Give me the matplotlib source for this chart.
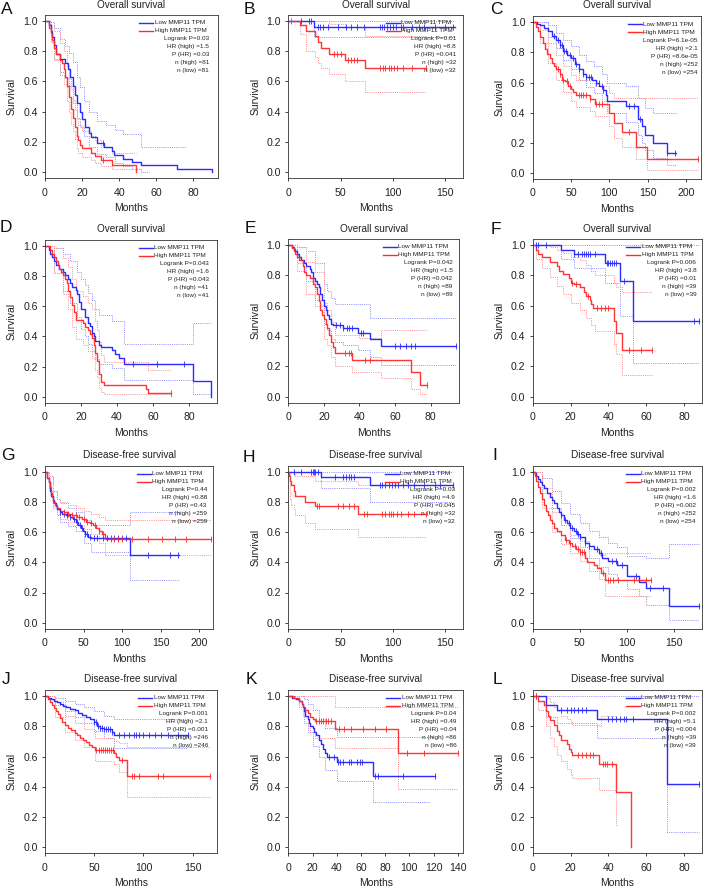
import matplotlib
matplotlib.use('Agg')
import matplotlib.pyplot as plt
import numpy as np
from matplotlib.lines import Line2D

# ---------------- DATA ----------------
GROUPS = ["Low MMP11 TPM", "High MMP11 TPM"]

# Panel A
A_low = [(0,1.0),(2,0.97),(3,0.93),(4,0.89),(5,0.84),(6,0.78),(8,0.75),(11,0.72),(12.5,0.68),(13.5,0.63),(15,0.57),(16,0.51),(17.5,0.46),(19,0.40),(20,0.35),(21.5,0.30),(23.5,0.26),(25,0.23),(28,0.19),(32,0.17),(36,0.14),(37,0.115),(42,0.085),(47,0.065),(52,0.045),(71,0.02),(90,0.0)]
A_high = [(0,1.0),(2,0.95),(3,0.92),(4,0.87),(5,0.82),(6,0.78),(8,0.74),(9,0.72),(10,0.68),(11,0.63),(12,0.57),(13,0.50),(14,0.42),(15,0.36),(16,0.30),(17,0.24),(18,0.21),(19,0.18),(20,0.16),(25,0.13),(27,0.11),(30,0.08),(36,0.05),(49,0.0)]
A_low_up = [(0,1.0),(3,0.99),(5,0.95),(8,0.88),(11,0.83),(13,0.79),(15,0.73),(17,0.63),(19,0.56),(21,0.47),(24,0.40),(28,0.34),(33,0.31),(38,0.28),(42,0.25),(52,0.17),(76,0.17)]
A_low_lo = [(0,1.0),(3,0.86),(5,0.75),(8,0.66),(11,0.62),(13,0.57),(15,0.46),(17,0.36),(19,0.30),(21,0.24),(24,0.17),(28,0.12),(33,0.10),(38,0.06),(42,0.04),(47,0.02),(52,0.0),(56,0.0)]
A_high_up = [(0,1.0),(3,0.99),(5,0.93),(8,0.85),(10,0.80),(12,0.70),(13,0.62),(14,0.55),(15,0.48),(16,0.41),(17,0.35),(18,0.31),(20,0.27),(25,0.24),(27,0.21),(30,0.17),(36,0.13),(49,0.13)]
A_high_lo = [(0,1.0),(3,0.86),(5,0.74),(8,0.64),(10,0.58),(12,0.47),(13,0.40),(14,0.32),(15,0.27),(16,0.22),(17,0.16),(18,0.13),(20,0.10),(25,0.08),(27,0.06),(30,0.04),(36,0.02),(49,0.0)]
A_low_cens = [31.5]
A_high_cens = [31.5]
A_stats = ["Logrank P=0.03", "HR (high) =1.5", "P (HR) =0.03", "n (high) =81", "n (low) =81"]

# Panel B
B_low = [(0,1.0),(25,0.96),(160,0.96)]
B_high = [(0,1.0),(11,0.97),(17,0.93),(26,0.90),(28,0.86),(31,0.82),(39,0.78),(54,0.74),(73,0.69),(132,0.69)]
B_low_up = [(0,1.0),(160,1.0)]
B_low_lo = [(0,1.0),(25,0.89),(160,0.89)]
B_high_up = [(0,1.0),(39,0.98),(54,0.96),(73,0.90),(132,0.90)]
B_high_lo = [(0,1.0),(11,0.91),(17,0.80),(26,0.76),(28,0.72),(31,0.69),(39,0.65),(54,0.60),(73,0.53),(132,0.53)]
B_low_cens = [12,20,22,28,30,33,38,48,55,60,66,72,88,90,92,94,97,100,103,108,110,118,125,130,140,150,158]
B_high_cens = [3,44,47,50,57,60,63,66,88,91,93,96,98,101,104,110,118,132]
B_stats = ["Logrank P=0.01", "HR (high) =8.8", "P (HR) =0.041", "n (high) =32", "n (low) =32"]

# Panel C
C_low = [(0,1.0),(5,0.99),(10,0.98),(15,0.96),(20,0.94),(25,0.91),(30,0.88),(35,0.85),(40,0.81),(45,0.78),(50,0.76),(55,0.72),(60,0.69),(65,0.66),(70,0.64),(77,0.62),(82,0.60),(87,0.58),(92,0.55),(95,0.52),(97,0.48),(122,0.445),(137,0.36),(142,0.31),(147,0.25),(157,0.20),(175,0.135),(187,0.135)]
C_high = [(0,1.0),(4,0.97),(7,0.94),(10,0.90),(13,0.86),(16,0.82),(19,0.79),(22,0.76),(25,0.73),(28,0.71),(31,0.69),(35,0.66),(38,0.62),(42,0.61),(46,0.58),(50,0.56),(53,0.54),(57,0.52),(75,0.49),(81,0.46),(100,0.40),(106,0.33),(116,0.27),(135,0.175),(149,0.09),(216,0.09)]
C_low_up = [(0,1.0),(20,0.98),(30,0.93),(40,0.88),(50,0.84),(60,0.78),(70,0.74),(80,0.71),(90,0.66),(97,0.60),(122,0.58),(137,0.50),(147,0.43),(157,0.40),(187,0.40)]
C_low_lo = [(0,1.0),(20,0.90),(30,0.83),(40,0.75),(50,0.69),(60,0.62),(70,0.57),(80,0.53),(90,0.48),(97,0.40),(122,0.34),(137,0.25),(142,0.20),(147,0.15),(157,0.10),(175,0.05),(187,0.05)]
C_high_up = [(0,1.0),(10,0.95),(20,0.86),(30,0.78),(40,0.71),(50,0.65),(57,0.62),(75,0.60),(81,0.58),(100,0.53),(106,0.50),(216,0.50)]
C_high_lo = [(0,1.0),(10,0.86),(20,0.73),(30,0.62),(40,0.54),(50,0.48),(57,0.44),(75,0.41),(81,0.38),(100,0.31),(106,0.23),(116,0.17),(135,0.09),(149,0.02),(216,0.02)]
C_low_cens = [28,33,36,38,41,44,48,52,56,60,66,70,73,76,82,86,90,92,126,132,140,175,186]
C_high_cens = [33,36,40,45,48,60,63,66,70,75,82,87,90,126,216]
C_stats = ["Logrank P=6.1e-05", "HR (high) =2.1", "P (HR) =8.6e-05", "n (high) =252", "n (low) =254"]

# Panel D
D_low = [(0,1.0),(2,0.975),(3,0.95),(4,0.925),(5,0.90),(6,0.875),(8,0.85),(10,0.83),(11,0.805),(13,0.78),(14,0.755),(15,0.73),(17,0.705),(18,0.68),(19,0.63),(20,0.58),(22,0.53),(24,0.49),(25,0.47),(26,0.42),(27,0.40),(28,0.37),(30,0.345),(31,0.33),(37,0.31),(39,0.285),(41,0.26),(44,0.215),(82,0.105),(92,0.0)]
D_high = [(0,1.0),(3,0.975),(4,0.95),(5,0.925),(6,0.90),(7,0.875),(8,0.85),(9,0.83),(10,0.805),(11,0.78),(12,0.755),(13,0.70),(14,0.66),(15,0.61),(16,0.56),(17,0.51),(21,0.49),(22,0.46),(24,0.44),(25,0.415),(26,0.39),(27,0.34),(28,0.29),(29,0.24),(30,0.15),(31,0.10),(33,0.075),(56,0.05),(57,0.025),(70,0.025)]
D_low_up = [(0,1.0),(5,0.99),(10,0.95),(14,0.90),(18,0.83),(20,0.78),(22,0.74),(24,0.69),(26,0.64),(28,0.58),(30,0.54),(37,0.50),(44,0.35),(82,0.49),(92,0.49)]
D_low_lo = [(0,1.0),(5,0.82),(10,0.70),(14,0.62),(18,0.53),(20,0.45),(22,0.40),(24,0.35),(26,0.30),(28,0.25),(30,0.22),(37,0.19),(44,0.11),(82,0.02),(92,0.02)]
D_high_up = [(0,1.0),(5,0.99),(10,0.92),(13,0.86),(15,0.78),(17,0.70),(21,0.67),(24,0.62),(26,0.58),(28,0.50),(29,0.44),(30,0.36),(31,0.28),(33,0.23),(57,0.18),(70,0.18)]
D_high_lo = [(0,1.0),(5,0.82),(10,0.68),(13,0.58),(15,0.46),(17,0.38),(21,0.34),(24,0.30),(26,0.26),(28,0.18),(29,0.13),(30,0.06),(31,0.03),(33,0.02),(70,0.0)]
D_low_cens = [49,62,77]
D_high_cens = [70]
D_stats = ["Logrank P=0.043", "HR (high) =1.6", "P (HR) =0.043", "n (high) =41", "n (low) =41"]

# Panel E
E_low = [(0,1.0),(2,0.99),(3,0.975),(4,0.96),(5,0.94),(6,0.92),(7,0.90),(9,0.88),(10,0.86),(12,0.84),(13,0.82),(14,0.78),(15,0.76),(16,0.74),(17,0.72),(18,0.68),(19,0.64),(20,0.60),(21,0.57),(22,0.54),(23,0.51),(24,0.48),(25,0.47),(31,0.45),(39,0.42),(46,0.38),(52,0.335),(94,0.335)]
E_high = [(0,1.0),(2,0.98),(3,0.96),(4,0.94),(5,0.92),(6,0.90),(8,0.86),(9,0.82),(10,0.80),(12,0.78),(14,0.74),(15,0.72),(16,0.68),(17,0.63),(18,0.57),(19,0.54),(20,0.51),(21,0.48),(22,0.45),(23,0.41),(24,0.36),(25,0.33),(26,0.285),(36,0.24),(69,0.16),(74,0.08),(78,0.08)]
E_low_up = [(0,1.0),(5,0.99),(10,0.96),(15,0.88),(20,0.74),(22,0.70),(24,0.65),(26,0.61),(46,0.52),(94,0.52)]
E_low_lo = [(0,1.0),(5,0.88),(10,0.76),(15,0.64),(20,0.48),(22,0.44),(24,0.38),(26,0.36),(31,0.34),(39,0.31),(46,0.26),(52,0.21),(94,0.21)]
E_high_up = [(0,1.0),(5,0.99),(10,0.89),(15,0.82),(20,0.62),(22,0.57),(24,0.49),(26,0.41),(40,0.39),(52,0.44),(78,0.44)]
E_high_lo = [(0,1.0),(5,0.83),(10,0.68),(15,0.60),(20,0.38),(22,0.34),(24,0.26),(26,0.20),(36,0.16),(52,0.12),(69,0.05),(74,0.02),(78,0.02)]
E_low_cens = [27,29,31,33,34,36,41,42,60,63,66,69,71,94]
E_high_cens = [32,34,35,43,46,78]
E_stats = ["Logrank P=0.042", "HR (high) =1.5", "P (HR) =0.042", "n (high) =89", "n (low) =89"]

# Panel F
F_low = [(0,1.0),(15,0.97),(22,0.94),(38,0.88),(46,0.76),(53,0.50),(88,0.50)]
F_high = [(0,1.0),(2,0.97),(3,0.94),(5,0.92),(9,0.89),(13,0.86),(14,0.83),(16,0.81),(19,0.78),(20,0.75),(22,0.745),(25,0.72),(27,0.69),(28,0.665),(30,0.64),(31,0.61),(32,0.585),(43,0.50),(44,0.42),(47,0.31),(63,0.31)]
F_low_up = [(0,1.0),(88,1.0)]
F_low_lo = [(0,1.0),(15,0.91),(22,0.85),(38,0.75),(46,0.53),(53,0.22),(88,0.22)]
F_high_up = [(0,1.0),(5,1.0),(9,0.99),(13,0.97),(16,0.95),(20,0.92),(25,0.90),(28,0.87),(31,0.83),(33,0.80),(43,0.75),(44,0.72),(47,0.69),(63,0.69)]
F_high_lo = [(0,1.0),(2,0.91),(5,0.85),(9,0.79),(13,0.73),(16,0.68),(20,0.62),(25,0.57),(28,0.52),(31,0.47),(33,0.43),(43,0.35),(44,0.28),(47,0.14),(63,0.14)]
F_low_cens = [2,3,7,22,24,26,27,28,29,30,33,39,40,41,42,43,44,48,85,88]
F_high_cens = [21,23,29,34,36,38,40,51,57,63]
F_stats = ["Logrank P=0.006", "HR (high) =3.8", "P (HR) =0.01", "n (high) =39", "n (low) =39"]

# Panel G
G_low = [(0,1.0),(2,0.98),(3,0.96),(5,0.93),(6,0.90),(7,0.87),(8,0.84),(10,0.81),(12,0.79),(14,0.77),(16,0.75),(19,0.73),(22,0.72),(27,0.71),(32,0.70),(36,0.69),(40,0.67),(43,0.65),(46,0.63),(49,0.61),(52,0.59),(56,0.57),(59,0.56),(110,0.45),(173,0.45)]
G_high = [(0,1.0),(2,0.98),(3,0.96),(5,0.93),(6,0.90),(8,0.86),(9,0.83),(11,0.80),(13,0.78),(16,0.76),(19,0.74),(25,0.73),(30,0.72),(35,0.71),(42,0.70),(48,0.69),(53,0.67),(58,0.66),(62,0.645),(66,0.625),(70,0.605),(74,0.59),(78,0.555),(215,0.555)]
G_low_up = [(0,1.0),(5,0.97),(10,0.87),(15,0.82),(20,0.79),(30,0.76),(40,0.73),(50,0.68),(59,0.65),(110,0.73),(173,0.73)]
G_low_lo = [(0,1.0),(5,0.89),(10,0.76),(15,0.71),(20,0.67),(30,0.64),(40,0.61),(50,0.53),(59,0.47),(110,0.28),(173,0.28)]
G_high_up = [(0,1.0),(5,0.97),(10,0.87),(15,0.82),(20,0.80),(30,0.78),(40,0.76),(50,0.74),(60,0.72),(70,0.70),(78,0.68),(215,0.68)]
G_high_lo = [(0,1.0),(5,0.89),(10,0.77),(15,0.72),(20,0.69),(30,0.67),(40,0.65),(50,0.62),(60,0.59),(70,0.53),(78,0.45),(215,0.45)]
G_low_cens = [20,24,28,33,37,42,45,48,52,55,58,63,68,75,80,85,90,95,100,105,133,162,172]
G_high_cens = [25,30,35,40,44,50,55,60,65,70,75,85,90,95,100,113,133,152,168,183,215]
G_stats = ["Logrank P=0.44", "HR (high) =0.88", "P (HR) =0.43", "n (high) =259", "n (low) =259"]

# Panel H
H_low = [(0,1.0),(31,0.965),(78,0.915),(158,0.915)]
H_high = [(0,1.0),(1,0.97),(2,0.94),(3,0.91),(5,0.875),(6,0.84),(16,0.80),(26,0.77),(67,0.72),(132,0.72)]
H_low_up = [(0,1.0),(158,1.0)]
H_low_lo = [(0,1.0),(31,0.89),(78,0.80),(158,0.80)]
H_high_up = [(0,1.0),(6,0.97),(26,0.94),(67,0.91),(132,0.91)]
H_high_lo = [(0,1.0),(2,0.82),(3,0.78),(5,0.75),(6,0.71),(16,0.66),(26,0.62),(67,0.565),(132,0.565)]
H_low_cens = [5,12,22,24,25,26,28,45,52,55,58,60,63,88,90,93,96,99,102,105,110,115,120,130,140,145,158]
H_high_cens = [27,29,48,52,58,63,72,75,90,93,96,98,100,104,108,115,120,132]
H_stats = ["Logrank P=0.03", "HR (high) =4.9", "P (HR) =0.045", "n (high) =32", "n (low) =32"]

# Panel I
I_low = [(0,1.0),(2,0.99),(4,0.97),(6,0.95),(8,0.93),(10,0.91),(12,0.89),(15,0.86),(18,0.83),(20,0.81),(23,0.79),(26,0.76),(28,0.73),(30,0.71),(33,0.68),(36,0.66),(40,0.63),(44,0.61),(47,0.59),(50,0.57),(55,0.53),(60,0.51),(65,0.49),(70,0.46),(74,0.43),(80,0.41),(89,0.38),(100,0.31),(113,0.27),(120,0.23),(145,0.11),(177,0.11)]
I_high = [(0,1.0),(2,0.97),(4,0.94),(6,0.90),(8,0.86),(10,0.82),(12,0.78),(14,0.74),(16,0.71),(18,0.68),(20,0.66),(23,0.63),(26,0.61),(30,0.58),(34,0.55),(38,0.53),(42,0.51),(46,0.49),(50,0.47),(55,0.43),(58,0.40),(65,0.38),(68,0.36),(72,0.33),(77,0.285),(126,0.285)]
I_low_up = [(0,1.0),(10,0.96),(20,0.87),(30,0.79),(40,0.72),(50,0.66),(60,0.61),(70,0.57),(80,0.53),(89,0.50),(100,0.44),(120,0.43),(145,0.52),(177,0.52)]
I_low_lo = [(0,1.0),(10,0.86),(20,0.76),(30,0.65),(40,0.56),(50,0.50),(60,0.43),(70,0.37),(80,0.32),(89,0.28),(100,0.22),(113,0.18),(120,0.12),(145,0.02),(177,0.02)]
I_high_up = [(0,1.0),(10,0.89),(20,0.73),(30,0.65),(40,0.58),(50,0.54),(60,0.49),(70,0.45),(77,0.46),(126,0.46)]
I_high_lo = [(0,1.0),(10,0.76),(20,0.60),(30,0.52),(40,0.46),(50,0.41),(60,0.34),(70,0.29),(77,0.18),(126,0.18)]
I_low_cens = [30,34,38,42,46,48,50,55,60,68,72,84,88,95,110,125,138,177]
I_high_cens = [35,40,45,48,50,52,54,75,80,82,85,90,108,120,126]
I_stats = ["Logrank P=0.002", "HR (high) =1.6", "P (HR) =0.002", "n (high) =252", "n (low) =254"]

# Panel J
J_low = [(0,1.0),(3,0.99),(6,0.98),(9,0.97),(12,0.96),(15,0.95),(18,0.935),(21,0.925),(25,0.915),(30,0.905),(34,0.89),(38,0.875),(42,0.86),(46,0.845),(50,0.825),(53,0.805),(56,0.79),(60,0.78),(68,0.765),(70,0.745),(145,0.745)]
J_high = [(0,1.0),(3,0.98),(5,0.96),(7,0.94),(9,0.92),(11,0.90),(13,0.88),(15,0.855),(17,0.83),(20,0.81),(23,0.79),(26,0.775),(30,0.755),(33,0.74),(36,0.725),(39,0.71),(42,0.695),(45,0.675),(48,0.66),(51,0.645),(70,0.625),(72,0.60),(75,0.575),(83,0.47),(168,0.47)]
J_low_up = [(0,1.0),(10,0.99),(20,0.97),(30,0.95),(40,0.93),(50,0.90),(60,0.87),(70,0.85),(145,0.85)]
J_low_lo = [(0,1.0),(10,0.94),(20,0.90),(30,0.86),(40,0.82),(50,0.77),(60,0.72),(70,0.655),(145,0.655)]
J_high_up = [(0,1.0),(10,0.96),(20,0.87),(30,0.82),(40,0.78),(51,0.72),(70,0.70),(75,0.69),(83,0.665),(168,0.665)]
J_high_lo = [(0,1.0),(10,0.86),(20,0.76),(30,0.71),(40,0.66),(51,0.57),(70,0.55),(75,0.50),(83,0.33),(168,0.33)]
J_low_cens = [50,52,54,56,58,60,62,64,66,68,75,80,85,90,92,95,100,106,112,118,125,135,145]
J_high_cens = [52,55,57,59,61,63,65,67,69,78,88,90,95,115,120,168]
J_stats = ["Logrank P=0.001", "HR (high) =2.1", "P (HR) =0.001", "n (high) =246", "n (low) =246"]

# Panel K
K_low = [(0,1.0),(3,0.99),(6,0.98),(9,0.97),(11,0.95),(12,0.93),(13,0.90),(14,0.87),(16,0.85),(17,0.82),(18,0.80),(20,0.79),(21,0.76),(23,0.74),(25,0.71),(27,0.68),(29,0.65),(30,0.62),(32,0.60),(40,0.565),(70,0.47),(121,0.47)]
K_high = [(0,1.0),(5,0.99),(9,0.97),(11,0.95),(12,0.93),(14,0.91),(16,0.89),(18,0.86),(20,0.85),(22,0.835),(39,0.78),(91,0.62),(140,0.62)]
K_low_up = [(0,1.0),(11,1.0),(13,0.98),(16,0.95),(20,0.91),(25,0.85),(30,0.79),(40,0.73),(121,0.73)]
K_low_lo = [(0,1.0),(9,0.93),(13,0.82),(16,0.76),(20,0.67),(25,0.60),(30,0.51),(40,0.44),(70,0.30),(117,0.30)]
K_high_up = [(0,1.0),(39,0.93),(140,0.93)]
K_high_lo = [(0,1.0),(9,0.93),(12,0.87),(16,0.80),(18,0.76),(22,0.72),(39,0.655),(91,0.385),(140,0.385)]
K_low_cens = [34,38,41,43,45,50,52,57,59,61,72,74,95,121]
K_high_cens = [23,25,27,29,31,33,35,42,46,52,62,72,81,98,112,140]
K_stats = ["Logrank P=0.04", "HR (high) =0.49", "P (HR) =0.04", "n (high) =86", "n (low) =86"]

# Panel L
L_low = [(0,1.0),(7,0.94),(13,0.91),(34,0.85),(71,0.42),(88,0.42)]
L_high = [(0,1.0),(3,0.97),(6,0.94),(7,0.90),(8,0.87),(9,0.84),(11,0.81),(13,0.77),(14,0.74),(15,0.71),(18,0.68),(19,0.65),(20,0.63),(21,0.61),(35,0.55),(44,0.365),(52,0.0)]
L_low_up = [(0,1.0),(88,1.0)]
L_low_lo = [(0,1.0),(7,0.86),(13,0.82),(34,0.72),(71,0.10),(88,0.10)]
L_high_up = [(0,1.0),(7,0.99),(9,0.96),(11,0.93),(13,0.90),(15,0.87),(18,0.85),(20,0.83),(21,0.81),(35,0.80),(36,0.87),(44,0.87)]
L_high_lo = [(0,1.0),(3,0.91),(7,0.80),(9,0.72),(11,0.67),(13,0.61),(15,0.57),(18,0.52),(20,0.48),(21,0.46),(35,0.38),(44,0.15),(45,0.15)]
L_low_cens = [2,15,18,20,22,24,26,28,40,42,44,46,48,49,53,88]
L_high_cens = [2,24,26,28,30,32,37,38,39,42]
L_stats = ["Logrank P=0.002", "HR (high) =5.1", "P (HR) =0.004", "n (high) =39", "n (low) =39"]

TITLE_OS = "Overall survival"
TITLE_DFS = "Disease-free survival"

# ---------------- LAYOUT (pixels in a 707 x 889 figure) ----------------
W, H = 707, 889
# key: (left, right, y of 1.0, y of 0.0, xmax, xticks, title, title_y, letter_x, letter_y, legend_right_gap)
LAYOUT = {
    'A': (45.0, 217.7, 20.7, 172.3, 93.2, [0, 20, 40, 60, 80], TITLE_OS, 5.5, 1.0, 2.0, 8.5),
    'B': (288.3, 463.3, 20.7, 172.3, 167.5, [0, 50, 100, 150], TITLE_OS, 5.5, 243.5, 2.0, 7.5),
    'C': (532.7, 701.0, 22.3, 173.0, 219.5, [0, 50, 100, 150, 200], TITLE_OS, 5.5, 490.0, 2.0, 3.5),
    'D': (45.0, 217.3, 246.0, 396.7, 95.7, [0, 20, 40, 60, 80], TITLE_OS, 229.2, 0.0, 219.5, 8.5),
    'E': (288.3, 459.0, 245.0, 396.7, 95.9, [0, 20, 40, 60, 80], TITLE_OS, 229.2, 244.5, 221.0, 6.5),
    'F': (532.7, 702.3, 245.0, 396.7, 89.5, [0, 20, 40, 60, 80], TITLE_OS, 229.2, 491.0, 222.0, 6.0),
    'G': (45.0, 213.3, 471.7, 622.7, 218.0, [0, 50, 100, 150, 200], TITLE_DFS, 454.5, 1.0, 447.5, 6.5),
    'H': (288.3, 463.3, 471.7, 622.7, 167.5, [0, 50, 100, 150], TITLE_DFS, 454.5, 242.5, 449.5, 8.5),
    'I': (532.7, 702.3, 471.7, 622.7, 180.0, [0, 50, 100, 150], TITLE_DFS, 454.5, 492.5, 447.5, 6.5),
    'J': (45.0, 216.7, 696.0, 847.3, 174.4, [0, 50, 100, 150], TITLE_DFS, 679.0, 2.0, 672.5, 8.5),
    'K': (288.3, 463.3, 696.0, 847.3, 144.6, [0, 20, 40, 60, 80, 100, 120, 140], TITLE_DFS, 679.0, 246.0, 672.5, 7.0),
    'L': (532.7, 702.3, 696.0, 847.3, 89.5, [0, 20, 40, 60, 80], TITLE_DFS, 679.0, 492.5, 672.5, 6.5),
}

PANELS = {
    'A': (A_low, A_high, A_low_up, A_low_lo, A_high_up, A_high_lo, A_low_cens, A_high_cens, A_stats),
    'B': (B_low, B_high, B_low_up, B_low_lo, B_high_up, B_high_lo, B_low_cens, B_high_cens, B_stats),
    'C': (C_low, C_high, C_low_up, C_low_lo, C_high_up, C_high_lo, C_low_cens, C_high_cens, C_stats),
    'D': (D_low, D_high, D_low_up, D_low_lo, D_high_up, D_high_lo, D_low_cens, D_high_cens, D_stats),
    'E': (E_low, E_high, E_low_up, E_low_lo, E_high_up, E_high_lo, E_low_cens, E_high_cens, E_stats),
    'F': (F_low, F_high, F_low_up, F_low_lo, F_high_up, F_high_lo, F_low_cens, F_high_cens, F_stats),
    'G': (G_low, G_high, G_low_up, G_low_lo, G_high_up, G_high_lo, G_low_cens, G_high_cens, G_stats),
    'H': (H_low, H_high, H_low_up, H_low_lo, H_high_up, H_high_lo, H_low_cens, H_high_cens, H_stats),
    'I': (I_low, I_high, I_low_up, I_low_lo, I_high_up, I_high_lo, I_low_cens, I_high_cens, I_stats),
    'J': (J_low, J_high, J_low_up, J_low_lo, J_high_up, J_high_lo, J_low_cens, J_high_cens, J_stats),
    'K': (K_low, K_high, K_low_up, K_low_lo, K_high_up, K_high_lo, K_low_cens, K_high_cens, K_stats),
    'L': (L_low, L_high, L_low_up, L_low_lo, L_high_up, L_high_lo, L_low_cens, L_high_cens, L_stats),
}

BLUE = '#2b2bff'
RED = '#ff2b2b'
BLUE_CI = '#8c8cff'
RED_CI = '#ff8c8c'

plt.rcParams['font.family'] = ['Liberation Sans', 'DejaVu Sans']
fig = plt.figure(figsize=(W / 100, H / 100), dpi=100)


def fx(px):
    return px / W


def fy(py):
    return 1 - py / H


def steps(ax, pts, **kw):
    t = [p[0] for p in pts]
    s = [p[1] for p in pts]
    ax.step(t, s, where='post', **kw)


def censor(ax, pts, times, color):
    t = np.array([p[0] for p in pts])
    s = np.array([p[1] for p in pts])
    idx = np.clip(np.searchsorted(t, times, side='right') - 1, 0, len(s) - 1)
    ax.plot(times, s[idx], linestyle='none', marker='|', markersize=4.0,
            markeredgewidth=0.6, color=color)


for key in 'ABCDEFGHIJKL':
    (l, r, y1, y0, xmax, xticks, title, title_y, let_x, let_y, lgap) = LAYOUT[key]
    low, high, lup, llo, hup, hlo, lcens, hcens, stats = PANELS[key]
    span = y0 - y1
    top = y1 - 0.04 * span
    bot = y0 + 0.04 * span
    ax = fig.add_axes([fx(l), fy(bot), (r - l) / W, (bot - top) / H])
    ax.set_xlim(0, xmax)
    ax.set_ylim(-0.04, 1.04)

    # confidence bands (dotted)
    for pts in (lup, llo):
        steps(ax, pts, color=BLUE_CI, lw=0.7, linestyle=(0, (1, 1.2)))
    for pts in (hup, hlo):
        steps(ax, pts, color=RED_CI, lw=0.7, linestyle=(0, (1, 1.2)))
    # main curves
    steps(ax, low, color=BLUE, lw=1.0)
    steps(ax, high, color=RED, lw=1.0, alpha=0.95)
    censor(ax, low, lcens, BLUE)
    censor(ax, high, hcens, RED)

    ax.set_xticks(xticks)
    ax.set_xticklabels([str(v) for v in xticks])
    yt = [0.0, 0.2, 0.4, 0.6, 0.8, 1.0]
    ax.set_yticks(yt)
    ax.set_yticklabels(['%.1f' % v for v in yt])
    ax.tick_params(axis='both', direction='out', length=2.4, width=0.6,
                   labelsize=7.6, colors='#222222')
    ax.tick_params(axis='y', pad=2.8)
    ax.tick_params(axis='x', pad=4.2)
    for sp in ax.spines.values():
        sp.set_linewidth(0.6)
        sp.set_color('#333333')

    cx = (l + r) / 2
    fig.text(fx(cx), fy(title_y), title, ha='center', va='center', fontsize=7.2, color='#222222')
    fig.text(fx(cx), fy(bot + 30), 'Months', ha='center', va='center', fontsize=7.5, color='#222222')
    fig.text(fx(l - 33), fy((top + bot) / 2), 'Survival', ha='center', va='center',
             rotation=90, fontsize=7.5, color='#222222')
    fig.text(fx(let_x), fy(let_y), key, ha='left', va='top', fontsize=12.5, color='#111111')

    # legend block
    R = r - lgap
    ly0 = top + 8.0
    dy = 8.0
    for i, (lab, col) in enumerate(zip(GROUPS, (BLUE, RED))):
        yy = ly0 + i * dy
        fig.add_artist(Line2D([fx(R - 70), fx(R - 56)], [fy(yy), fy(yy)], color=col, lw=1.0))
        fig.text(fx(R - 54.5), fy(yy), lab, ha='left', va='center', fontsize=4.6, color='#222222')
    for j, txt in enumerate(stats):
        yy = ly0 + (j + 2) * dy
        fig.text(fx(R), fy(yy), txt, ha='right', va='center', fontsize=4.6, color='#222222')

fig.savefig('out.png', dpi=100, facecolor='white')
